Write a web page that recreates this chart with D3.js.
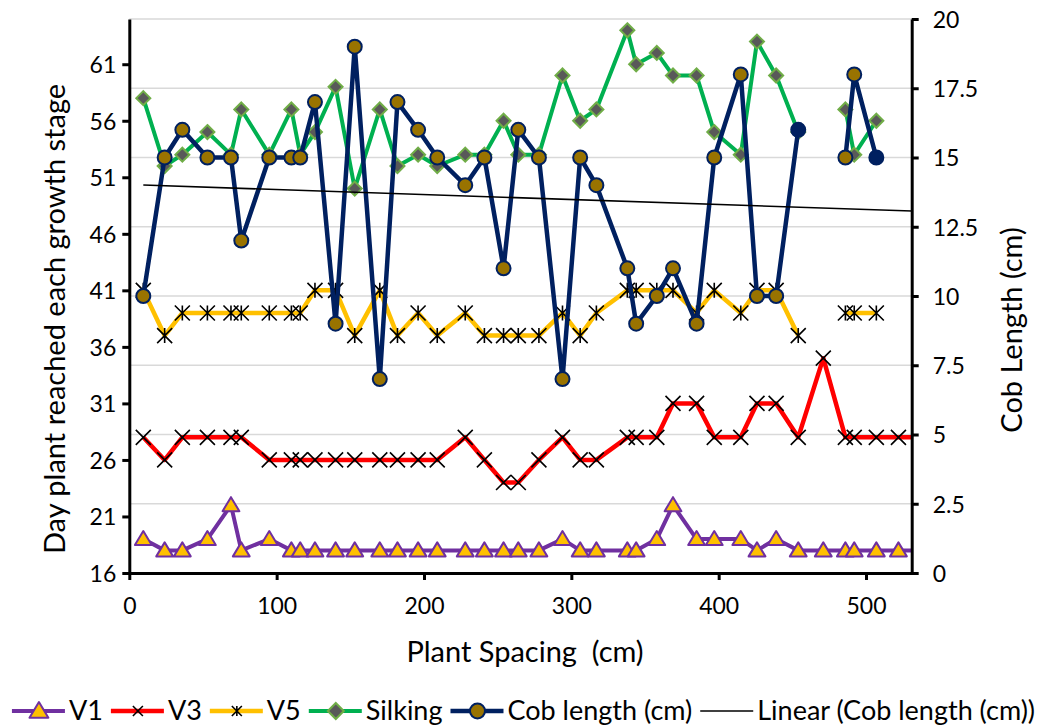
<!DOCTYPE html>
<html>
<head>
<meta charset="utf-8">
<script src="https://cdn.jsdelivr.net/npm/d3@7"></script>
<style>
  html, body { margin: 0; padding: 0; background: #fff; }
  svg { display: block; font-family: Lato, "Noto Sans", sans-serif; }
</style>
</head>
<body>
<svg id="chart" width="1047" height="727"></svg>
<script>
// ---- data ----
const spacing = [9.5, 24, 36, 53, 69, 76, 95, 110, 116, 126, 140, 153, 170, 182, 196, 209, 228, 241, 254, 264, 278, 294, 306, 317, 338, 344, 358, 369, 385, 397, 415, 426, 439, 454, 471, 486, 492, 507, 522, 540];
const v1 = [19,18,18,19,22,18,19,18,18,18,18,18,18, 18,18,18,18,18,18,18,18,19,18,18,18,18,19, 22,19,19,19,18,19,18,18,18,18,18,18, 18];
const v3 = [28,26,28,28,28,28,26,26,26,26,26,26,26, 26,26,26,28,26,24,24,26,28,26,26,28,28,28, 31,31,28,28,31,31,28,35,28,28,28,28, 28];
const v5 = [41,37,39,39,39,39,39,39,39,41,41,37,41, 37,39,37,39,37,37,37,37,39,37,39,41,41,41, 41,39,41,39,41,41,37,null,39,39,39,null, null];
const silking = [58,52,53,55,53,57,53,57,53,55,59,50,57, 52,53,52,53,53,56,53,53,60,56,57,64,61,62, 60,60,55,53,63,60,55,null,57,53,56,null, null];
const cobLength = [10,15,16,15,15,12,15,15,15,17,9,19,7, 17,16,15,14,15,11,16,15,7,15,14,11,9,10, 11,9,15,18,10,10,16,null,15,18,15,null, null];

const xTicks = [0, 100, 200, 300, 400, 500];
const leftTicks = [16, 21, 26, 31, 36, 41, 46, 51, 56, 61];
const rightTicks = [0, 2.5, 5, 7.5, 10, 12.5, 15, 17.5, 20];

const xTitle = "Plant Spacing  (cm)";
const yLeftTitle = "Day plant reached each growth stage";
const yRightTitle = "Cob Length (cm)";
const legendNames = ["V1", "V3", "V5", "Silking", "Cob length (cm)", "Linear (Cob length (cm))"];

// ---- layout ----
const svg = d3.select("#chart");
const plot = { left: 129.3, right: 911.7, top: 19, bottom: 573 };

const x = d3.scaleLinear().domain([0, 531]).range([plot.left, plot.right]);
const yL = d3.scaleLinear().domain([16, 65]).range([plot.bottom, plot.top]);
const yR = d3.scaleLinear().domain([0, 20]).range([plot.bottom, plot.top]);

svg.append("defs").append("clipPath").attr("id", "clip")
  .append("rect").attr("x", plot.left).attr("y", plot.top - 20)
  .attr("width", plot.right - plot.left).attr("height", plot.bottom - plot.top + 40);

// gridlines (right axis major units)
svg.append("g").selectAll("line").data(rightTicks.filter(t => t > 0)).join("line")
  .attr("x1", plot.left).attr("x2", plot.right)
  .attr("y1", d => yR(d)).attr("y2", d => yR(d))
  .attr("stroke", "#d9d9d9").attr("stroke-width", 1.5);

// ---- marker painters ----
function triangle(g, cx, cy, s) {
  g.append("path").attr("d", `M${cx},${cy - s}L${cx + s * 1.05},${cy + s * 0.75}L${cx - s * 1.05},${cy + s * 0.75}Z`)
    .attr("fill", "#FFC000").attr("stroke", "#7030A0").attr("stroke-width", 2).attr("stroke-linejoin", "round");
}
function xMark(g, cx, cy, s) {
  g.append("path").attr("d", `M${cx - s},${cy - s}L${cx + s},${cy + s}M${cx - s},${cy + s}L${cx + s},${cy - s}`)
    .attr("stroke", "#000").attr("stroke-width", 1.6).attr("fill", "none");
}
function star(g, cx, cy, s) {
  g.append("path").attr("d", `M${cx - s},${cy - s}L${cx + s},${cy + s}M${cx - s},${cy + s}L${cx + s},${cy - s}M${cx},${cy - s}L${cx},${cy + s}`)
    .attr("stroke", "#000").attr("stroke-width", 1.6).attr("fill", "none");
}
function diamond(g, cx, cy, s) {
  g.append("path").attr("d", `M${cx},${cy - s}L${cx + s},${cy}L${cx},${cy + s}L${cx - s},${cy}Z`)
    .attr("fill", "#595959").attr("stroke", "#70AD47").attr("stroke-width", 2);
}
function circle(g, cx, cy, s, fill) {
  g.append("circle").attr("cx", cx).attr("cy", cy).attr("r", s)
    .attr("fill", fill || "#997300").attr("stroke", "#002060").attr("stroke-width", 2);
}

const series = [
  { name: legendNames[0], values: v1, y: yL, color: "#7030A0", width: 4, marker: (g, a, b) => triangle(g, a, b, 8), lm: (g, a, b) => triangle(g, a, b, 9) },
  { name: legendNames[1], values: v3, y: yL, color: "#FF0000", width: 4.5, marker: (g, a, b) => xMark(g, a, b, 7.5), lm: (g, a, b) => xMark(g, a, b, 5) },
  { name: legendNames[2], values: v5, y: yL, color: "#FFC000", width: 4.5, marker: (g, a, b) => star(g, a, b, 7.5), lm: (g, a, b) => star(g, a, b, 5) },
  { name: legendNames[3], values: silking, y: yL, color: "#00B050", width: 4, marker: (g, a, b) => diamond(g, a, b, 7), lm: (g, a, b) => diamond(g, a, b, 8) },
  { name: legendNames[4], values: cobLength, y: yR, color: "#002060", width: 4.5, marker: null, lm: (g, a, b) => circle(g, a, b, 7.5) }
];

const dataArea = svg.append("g").attr("clip-path", "url(#clip)");

series.forEach(s => {
  const pts = spacing.map((sp, i) => ({ x: sp, v: s.values[i], i }));
  const line = d3.line().defined(d => d.v != null).x(d => x(d.x)).y(d => s.y(d.v));
  const g = dataArea.append("g");
  g.append("path").datum(pts).attr("d", line)
    .attr("fill", "none").attr("stroke", s.color).attr("stroke-width", s.width)
    .attr("stroke-linejoin", "round");
  pts.filter(d => d.v != null && d.x <= 531).forEach(d => {
    if (s.marker) s.marker(g, x(d.x), s.y(d.v));
    else {
      // cob length: last point of each run drawn solid navy
      const next = s.values[d.i + 1];
      circle(g, x(d.x), s.y(d.v), 7, next == null ? "#002060" : "#997300");
    }
  });
});

// linear trendline of cob length
const pairs = spacing.map((sp, i) => [sp, cobLength[i]]).filter(p => p[1] != null);
const mx = d3.mean(pairs, p => p[0]), my = d3.mean(pairs, p => p[1]);
const slope = d3.sum(pairs, p => (p[0] - mx) * (p[1] - my)) / d3.sum(pairs, p => (p[0] - mx) ** 2);
const icpt = my - slope * mx;
const tx0 = d3.min(pairs, p => p[0]), tx1 = x.domain()[1];
dataArea.append("line")
  .attr("x1", x(tx0)).attr("y1", yR(icpt + slope * tx0))
  .attr("x2", x(tx1)).attr("y2", yR(icpt + slope * tx1))
  .attr("stroke", "#000").attr("stroke-width", 1.6);

// ---- axes ----
function styleAxis(g) {
  g.select(".domain").attr("stroke", "#000").attr("stroke-width", 3);
  g.selectAll(".tick line").attr("stroke", "#000").attr("stroke-width", 3);
  g.selectAll(".tick text").attr("fill", "#000").style("font-size", "23px").style("font-family", "Lato, sans-serif");
}
const axL = svg.append("g").attr("transform", `translate(${plot.left},0)`)
  .call(d3.axisLeft(yL).tickValues(leftTicks).tickSize(7).tickSizeOuter(0).tickPadding(6).tickFormat(d3.format("d")));
styleAxis(axL);
axL.selectAll(".tick text").attr("dy", "0.36em");
const axR = svg.append("g").attr("transform", `translate(${plot.right},0)`)
  .call(d3.axisRight(yR).tickValues(rightTicks).tickSize(7).tickSizeOuter(0).tickPadding(14).tickFormat(d => String(d)));
styleAxis(axR);
axR.selectAll(".tick text").attr("dy", "0.36em");
const axB = svg.append("g").attr("transform", `translate(0,${plot.bottom})`)
  .call(d3.axisBottom(x).tickValues(xTicks).tickSize(7).tickSizeOuter(0).tickPadding(18).tickFormat(d3.format("d")));
styleAxis(axB);

// ---- titles ----
svg.append("text").attr("x", 525).attr("y", 662)
  .attr("text-anchor", "middle").style("font-size", "29px").style("white-space", "pre")
  .attr("xml:space", "preserve").text(xTitle);
svg.append("text").attr("transform", `translate(65,319) rotate(-90)`)
  .attr("text-anchor", "middle").style("font-size", "29px").text(yLeftTitle);
svg.append("text").attr("transform", `translate(1022,330) rotate(-90)`)
  .attr("text-anchor", "middle").style("font-size", "29px").text(yRightTitle);

// ---- legend ----
const leg = svg.append("g");
const legY = 711;
const items = [
  ...series.map(s => ({ name: s.name, color: s.color, width: s.width, lm: s.lm })),
  { name: legendNames[5], color: "#000", width: 1.6, lm: null }
];
let cx = 0;
items.forEach(it => {
  const g = leg.append("g");
  g.append("line").attr("x1", cx).attr("x2", cx + 53).attr("y1", legY).attr("y2", legY)
    .attr("stroke", it.color).attr("stroke-width", it.width);
  if (it.lm) it.lm(g, cx + 27, legY);
  const t = g.append("text").attr("x", cx + 57).attr("y", legY + 9).style("font-size", "27px").text(it.name);
  cx += 57 + t.node().getComputedTextLength() + 8;
});
const total = cx - 8;
leg.attr("transform", `translate(${(1047 - total) / 2},0)`);
</script>
</body>
</html>
